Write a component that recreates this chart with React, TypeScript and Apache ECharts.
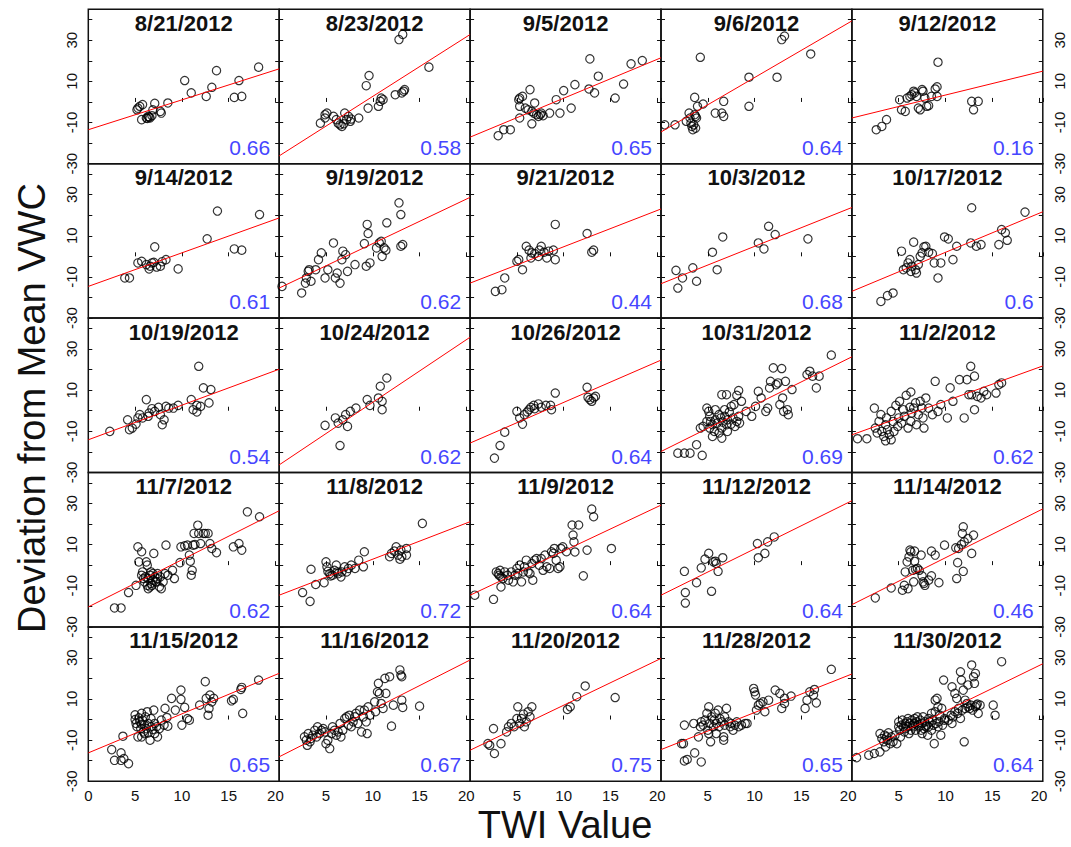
import React, { useEffect, useRef } from "react";
import * as echarts from "echarts";

const dates = ["8/21/2012","8/23/2012","9/5/2012","9/6/2012","9/12/2012","9/14/2012","9/19/2012","9/21/2012","10/3/2012","10/17/2012","10/19/2012","10/24/2012","10/26/2012","10/31/2012","11/2/2012","11/7/2012","11/8/2012","11/9/2012","11/12/2012","11/14/2012","11/15/2012","11/16/2012","11/20/2012","11/28/2012","11/30/2012"];
const rValues = ["0.66","0.58","0.65","0.64","0.16","0.61","0.62","0.44","0.68","0.6","0.54","0.62","0.64","0.69","0.62","0.62","0.72","0.64","0.64","0.46","0.65","0.67","0.75","0.65","0.64"];
const lineAt0 = [-13.5,-26.2,-17.1,-14.6,-7.8,-14.6,-15.4,-13.0,-13.3,-17.0,-14.1,-26.3,-15.7,-19.8,-11.7,-20.3,-14.6,-14.6,-14.6,-19.2,-16.2,-18.1,-14.9,-14.6,-18.1];
const lineAt20 = [15.5,31.6,20.7,38.3,14.5,18.0,27.8,22.3,23.0,20.9,19.5,34.5,23.8,25.3,21.1,25.5,20.4,28.3,30.4,26.4,21.7,28.0,28.8,21.4,26.2];
const xTicks = [0, 5, 10, 15, 20];
const yTickLabels = [-30, -10, 10, 30];

const p0821 = [[5.2,-3.8],[5.5,-2.1],[5.8,-1.3],[5.3,-3.0],[5.7,-8.6],[6.4,-7.0],[6.6,-7.8],[6.8,-6.7],[6.2,-7.8],[6.5,-7.4],[6.3,-8.0],[7.1,-0.7],[6.9,-3.8],[7.7,-4.6],[7.8,-5.4],[8.5,-0.5],[10.3,10.4],[11.0,4.4],[12.6,2.7],[13.2,7.1],[13.7,15.2],[15.6,2.2],[16.1,10.4],[16.4,2.7],[18.2,16.9]];
const p0823 = [[4.4,-10.3],[4.9,-6.2],[5.1,-5.4],[4.9,-7.8],[5.8,-7.0],[6.1,-8.6],[6.3,-10.3],[6.5,-11.1],[6.7,-11.9],[6.9,-10.6],[7.0,-5.4],[7.2,-8.6],[7.4,-7.0],[7.6,-9.4],[7.7,-8.3],[8.5,-7.8],[9.3,7.9],[9.6,12.8],[9.5,-3.0],[10.6,-2.1],[10.8,0.3],[11.1,1.1],[10.9,1.9],[12.4,3.5],[13.1,4.4],[13.3,5.2],[13.4,6.0],[12.8,30.3],[13.2,32.8],[16.0,16.9]];
const p0905 = [[3.0,-16.4],[3.6,-13.5],[4.3,-13.5],[5.2,1.1],[5.3,1.9],[5.6,2.7],[6.4,6.0],[5.3,-2.1],[5.9,-3.0],[6.2,-3.8],[6.6,-4.6],[6.8,-5.4],[6.9,-0.5],[7.1,-6.2],[7.3,-7.0],[7.5,-6.2],[7.6,-5.4],[7.8,-6.7],[8.5,-5.4],[5.3,-7.8],[6.6,-10.6],[9.2,1.1],[9.6,-5.4],[10.0,5.5],[10.8,-3.0],[11.2,8.4],[12.7,6.3],[12.8,20.9],[13.3,4.4],[13.7,12.5],[15.5,1.9],[16.4,8.7],[17.2,18.5],[18.4,20.1]];
const p0906 = [[0.4,-11.1],[1.5,-11.1],[2.7,-9.4],[3.0,-5.4],[3.1,-7.8],[3.2,-10.3],[3.3,-11.9],[3.4,-13.5],[3.5,-11.1],[3.6,-6.2],[3.7,-7.0],[3.8,-7.8],[3.9,-2.1],[3.6,2.2],[3.7,-12.7],[4.2,21.7],[4.5,-1.0],[5.8,-5.4],[6.5,-5.4],[6.7,-7.0],[6.7,0.3],[9.4,12.0],[9.4,-2.1],[12.4,12.0],[12.9,30.3],[13.2,32.0],[16.0,23.3]];
const p0912 = [[2.6,-13.5],[3.2,-11.9],[3.7,-8.6],[5.1,1.1],[5.3,-3.8],[5.7,-4.6],[5.9,1.9],[6.2,2.7],[6.4,3.5],[6.6,5.2],[6.7,4.4],[6.9,2.7],[7.1,-3.0],[7.3,-3.8],[7.5,6.0],[7.6,5.2],[7.8,1.9],[8.0,-2.1],[8.2,-1.8],[8.5,2.7],[8.9,6.3],[9.1,7.3],[9.1,2.7],[9.2,19.3],[12.8,0.3],[13.0,-3.8],[13.5,0.3]];
const p0914 = [[3.9,-10.5],[4.4,-10.5],[5.3,-3.2],[5.7,-2.4],[6.2,-4.0],[6.5,-6.1],[6.6,-4.8],[6.8,-3.2],[7.0,-2.9],[7.1,4.6],[7.3,-5.2],[7.7,-4.8],[7.9,-2.6],[8.3,-1.6],[9.6,-6.1],[12.7,8.5],[13.8,22.0],[15.6,3.6],[16.4,3.0],[18.3,20.3]];
const p0919 = [[0.3,-14.6],[2.4,-17.8],[2.8,-13.0],[2.9,-10.5],[3.1,-7.3],[3.2,-6.5],[3.4,-12.1],[3.9,-6.5],[4.2,-1.6],[4.5,1.7],[4.9,-10.5],[5.2,-6.5],[5.8,6.5],[6.0,-10.5],[6.2,-8.1],[6.5,-13.0],[6.7,-1.6],[6.8,2.5],[7.1,0.8],[7.3,-7.3],[8.1,-4.0],[9.3,-4.8],[9.1,6.2],[9.4,15.5],[9.5,11.1],[9.7,-3.2],[10.4,4.1],[10.7,6.5],[10.9,7.3],[11.0,0.0],[11.2,4.1],[11.4,3.0],[11.5,16.3],[12.8,26.0],[13.0,20.3],[13.0,4.9],[13.2,5.7]];
const p0921 = [[2.7,-17.0],[3.4,-16.2],[3.7,-10.5],[5.0,-2.4],[5.2,-1.6],[5.6,-6.5],[6.0,4.9],[6.3,3.0],[6.5,-0.8],[6.6,1.7],[6.9,1.3],[7.3,0.0],[7.4,3.0],[7.6,4.9],[7.9,2.0],[8.2,-0.8],[8.4,2.5],[8.9,3.0],[9.1,-1.6],[9.1,15.5],[12.5,11.1],[13.0,2.0],[13.2,3.0]];
const p1003 = [[1.6,-6.8],[1.8,-15.4],[2.3,-10.5],[3.4,-5.6],[3.8,-12.1],[5.5,2.0],[6.0,-6.5],[6.6,9.4],[10.4,6.5],[11.0,3.6],[11.5,14.6],[12.2,10.6],[15.7,8.5]];
const p1017 = [[3.1,-21.9],[3.8,-19.1],[4.4,-17.8],[5.3,2.5],[5.5,-6.5],[5.8,-5.6],[6.0,-3.2],[6.2,-1.6],[6.3,-7.3],[6.4,-4.8],[6.6,6.9],[6.8,-6.5],[6.9,-8.1],[7.1,-4.0],[7.3,0.0],[7.5,1.7],[7.7,4.6],[7.9,4.9],[8.2,2.0],[8.6,1.3],[8.8,-3.2],[9.2,-10.5],[9.5,-3.2],[9.9,9.4],[10.3,8.5],[10.8,-1.6],[11.2,4.9],[12.7,6.5],[12.8,23.6],[13.3,4.9],[13.8,5.7],[15.7,5.7],[16.0,13.0],[16.4,11.4],[16.6,7.8],[18.5,21.5]];
const p1019 = [[2.3,-10.0],[4.2,-4.4],[4.4,-9.2],[4.7,-8.4],[5.1,-6.5],[5.3,-3.5],[5.5,-1.9],[5.8,-3.5],[6.2,5.4],[6.4,-2.7],[6.5,-1.1],[6.8,1.0],[7.1,-0.3],[7.5,1.7],[7.7,-1.9],[7.9,-6.8],[8.1,-4.4],[8.3,2.1],[8.6,1.3],[9.1,1.3],[9.6,2.6],[11.0,5.4],[11.2,0.5],[11.6,2.6],[11.8,21.6],[12.0,2.1],[11.6,-0.6],[12.3,11.1],[12.9,3.8],[13.1,10.3]];
const p1024 = [[4.9,-7.1],[6.0,-3.5],[6.3,-6.0],[6.5,-16.9],[6.8,-4.4],[7.1,-1.9],[7.3,-7.6],[7.6,-0.3],[8.2,1.3],[9.4,5.4],[9.7,2.6],[10.6,6.2],[10.8,11.9],[11.0,4.6],[11.0,0.5],[11.5,15.9]];
const p1026 = [[2.6,-23.0],[3.2,-16.9],[3.7,-10.4],[5.0,-0.3],[5.3,-3.5],[5.6,-6.5],[5.8,-1.9],[6.1,-0.6],[6.3,0.5],[6.5,1.7],[6.8,2.6],[6.9,1.0],[7.3,3.3],[7.6,1.7],[8.1,2.6],[8.6,2.6],[8.7,0.5],[9.1,8.6],[12.5,11.4],[12.6,6.5],[12.8,5.4],[13.0,4.6],[13.2,6.2],[13.4,7.0]];
const p1031 = [[1.8,-20.6],[2.5,-20.6],[3.1,-20.6],[3.8,-16.5],[4.4,-21.7],[4.2,-8.4],[4.5,-7.6],[4.9,1.3],[5.1,-0.3],[5.2,-2.7],[5.3,-5.2],[5.5,-6.8],[5.7,-10.0],[5.8,-4.4],[6.0,-6.0],[6.2,-1.9],[6.4,-3.5],[6.5,-8.4],[6.6,-5.5],[6.8,-2.7],[7.0,-6.8],[7.1,-4.4],[7.3,-0.6],[7.5,-6.5],[7.7,-3.5],[7.8,3.0],[7.9,-7.6],[8.1,-5.2],[8.3,-2.7],[8.4,-6.0],[8.6,4.6],[5.5,-12.5],[6.2,-10.8],[5.2,-8.4],[5.8,0.5],[6.8,0.5],[7.5,2.1],[6.5,-13.3],[4.9,-5.2],[7.1,-10.0],[6.5,7.8],[7.0,7.8],[8.1,7.5],[8.3,9.8],[9.1,-0.3],[9.7,-2.7],[10.1,2.1],[10.4,9.4],[10.7,6.2],[11.2,-0.3],[11.4,1.3],[11.6,11.1],[11.7,14.3],[12.0,20.8],[12.3,12.7],[12.5,13.5],[12.7,3.0],[12.9,20.5],[13.0,6.2],[13.1,-0.3],[13.3,14.3],[13.5,0.5],[13.6,-1.9],[14.0,10.3],[15.6,17.6],[15.9,19.2],[16.2,16.8],[16.6,11.1],[16.9,16.8],[18.2,27.0]];
const p1102 = [[0.6,-13.6],[1.6,-13.6],[2.4,1.3],[2.5,-8.4],[2.7,-10.8],[2.9,-5.2],[3.1,-1.9],[3.2,-10.0],[3.4,-12.5],[3.6,-6.8],[3.7,-3.5],[3.8,-9.2],[4.0,-11.6],[4.2,-0.3],[4.4,-5.2],[4.5,-10.0],[4.7,2.6],[4.9,-7.6],[5.0,-3.5],[5.1,4.6],[5.3,-6.0],[5.5,0.5],[5.6,-2.7],[5.8,7.5],[6.0,-8.4],[6.2,1.7],[6.3,-5.2],[6.4,-1.1],[6.8,3.8],[6.9,-6.8],[7.1,-1.9],[7.5,1.3],[7.7,-8.4],[4.2,-14.1],[3.6,-14.6],[6.3,9.1],[6.6,1.3],[7.3,4.6],[7.6,-3.5],[7.9,6.2],[8.2,1.3],[8.6,-1.9],[8.9,14.3],[9.2,-0.3],[9.5,3.0],[10.2,-3.5],[10.5,11.1],[10.8,4.6],[11.5,15.1],[12.0,-3.5],[12.3,15.1],[12.5,7.8],[12.7,21.6],[12.8,7.8],[13.1,16.8],[13.1,0.5],[13.4,7.0],[13.8,6.2],[14.1,9.4],[14.4,7.8],[15.4,8.6],[15.7,12.7],[16.0,13.5]];
const p1107 = [[2.8,-20.8],[3.5,-20.8],[4.3,-13.3],[5.1,-9.8],[5.3,8.9],[5.4,1.6],[5.7,6.5],[5.8,-3.3],[5.9,-6.5],[6.0,-8.1],[6.2,1.6],[6.3,0.0],[6.4,-11.4],[6.4,-6.5],[6.6,-4.9],[6.7,-8.9],[6.7,-3.3],[6.8,-9.8],[6.9,-7.3],[7.0,5.7],[7.1,-5.7],[7.3,-8.1],[7.4,-4.1],[7.6,-10.6],[7.8,-11.4],[8.0,-8.1],[8.2,-4.1],[8.3,9.7],[8.5,-4.9],[9.0,-2.5],[9.2,-6.5],[6.1,-5.7],[6.3,-9.8],[6.6,-10.6],[7.2,-8.1],[7.4,-6.5],[7.7,-5.7],[6.9,-4.1],[5.7,-4.9],[9.8,1.2],[9.9,8.9],[10.3,9.4],[10.6,9.7],[10.8,4.9],[10.9,1.9],[11.0,-4.9],[11.1,-2.5],[11.2,9.7],[11.3,15.4],[11.4,10.0],[11.7,19.4],[11.8,15.4],[12.0,10.5],[12.3,15.4],[12.5,15.4],[12.8,15.4],[13.0,10.5],[13.2,8.1],[13.7,6.1],[15.5,8.9],[16.1,10.5],[16.4,7.3],[17.0,25.9],[18.3,23.5]];
const p1108 = [[2.5,-13.3],[3.3,-17.6],[3.4,-2.0],[3.9,-9.4],[4.8,-8.5],[5.0,1.6],[5.1,-0.8],[5.2,-3.0],[5.4,-4.1],[5.5,-5.2],[5.7,-4.9],[5.9,-2.5],[6.1,0.0],[6.2,-3.3],[6.3,-4.1],[6.6,-5.7],[6.7,-3.3],[7.0,-0.8],[7.2,-3.3],[7.4,-1.6],[7.7,0.0],[8.1,-1.6],[8.5,2.4],[9.0,-0.8],[9.1,6.5],[11.8,4.1],[12.0,5.7],[12.3,6.8],[12.5,8.9],[12.7,4.9],[12.9,2.9],[13.0,7.3],[13.1,4.1],[13.6,4.9],[13.6,8.1],[15.3,20.3]];
const p1109 = [[0.5,-14.6],[2.5,-16.6],[2.8,-3.3],[3.0,-4.1],[3.1,-4.9],[3.2,-2.5],[3.3,-5.7],[3.3,-10.6],[3.5,-6.5],[3.7,-3.3],[4.0,-4.9],[4.1,-7.3],[4.4,-3.3],[4.6,-8.1],[4.8,-4.9],[5.0,-1.6],[5.1,-4.1],[5.3,0.0],[5.5,-8.1],[5.7,-3.3],[5.8,-0.8],[6.0,2.4],[6.2,-3.3],[6.4,-4.1],[6.6,0.8],[6.7,-7.3],[6.9,2.4],[7.1,3.2],[7.4,0.0],[7.6,3.2],[7.8,-2.5],[8.0,4.9],[8.2,-0.8],[8.5,-1.6],[8.7,6.5],[8.9,5.7],[9.0,8.1],[9.2,2.4],[9.4,-1.6],[9.6,-0.8],[9.7,8.1],[9.9,8.9],[10.3,6.5],[10.9,19.5],[11.0,14.6],[11.1,11.3],[11.2,6.4],[11.6,19.5],[12.5,7.3],[12.1,-5.2],[13.0,27.2],[13.2,23.5],[15.1,8.1]];
const p1112 = [[2.5,-3.0],[2.6,-13.3],[2.6,-18.4],[3.8,-8.5],[4.3,-1.3],[4.7,2.9],[5.1,5.7],[5.4,-12.7],[5.6,1.6],[5.8,1.9],[5.9,0.8],[6.1,-3.0],[6.6,3.6],[10.3,10.5],[10.4,3.6],[11.1,5.7],[11.4,11.3],[12.1,13.7]];
const p1114 = [[2.5,-15.9],[4.2,-11.1],[5.4,-12.2],[5.6,-9.8],[5.7,-3.3],[5.9,1.6],[6.0,-11.4],[6.1,4.0],[6.2,7.3],[6.3,6.5],[6.5,-2.5],[6.6,-8.1],[6.7,6.8],[6.7,1.9],[6.8,-2.0],[7.0,-1.6],[7.2,-2.5],[7.4,4.9],[7.5,-5.2],[7.6,-8.1],[7.7,-8.9],[7.8,-9.8],[8.2,-7.3],[8.5,-5.2],[8.5,6.8],[8.9,4.9],[9.3,-8.5],[9.9,9.7],[11.1,8.4],[11.2,-6.5],[11.3,1.2],[11.4,8.1],[11.7,10.0],[11.8,15.4],[11.9,-3.0],[12.0,11.3],[11.9,18.6],[12.4,12.9],[12.8,5.7],[13.0,14.6]];
const p1115 = [[2.5,-14.6],[2.8,-19.8],[3.5,-16.2],[3.5,-19.8],[3.8,-19.0],[4.3,-21.4],[3.7,-8.1],[5.0,2.3],[5.0,0.0],[5.1,-1.9],[5.2,-3.5],[5.3,-8.4],[5.4,0.8],[5.5,-1.1],[5.6,-4.4],[5.7,-2.3],[5.7,3.0],[5.8,-0.3],[5.9,-6.0],[6.0,-2.7],[6.1,1.3],[6.2,-4.4],[6.3,3.8],[6.4,-1.9],[6.4,-6.5],[6.6,-10.0],[6.7,-3.5],[6.7,0.5],[6.9,-4.8],[7.0,4.6],[7.1,-1.9],[7.3,-3.5],[7.4,-8.4],[7.6,-4.4],[7.8,-0.3],[8.1,-2.7],[8.2,5.4],[8.4,1.0],[8.5,-3.2],[6.0,-6.8],[5.7,-8.4],[7.1,-6.8],[8.9,10.3],[9.3,4.6],[9.9,14.3],[9.9,9.8],[10.0,-2.7],[10.3,5.9],[10.6,0.5],[10.8,-0.3],[11.9,7.0],[12.5,18.4],[12.6,10.3],[12.8,2.1],[12.9,5.4],[13.0,11.9],[13.2,8.6],[13.4,10.3],[15.3,9.1],[15.5,9.8],[16.3,14.6],[16.5,3.0],[16.4,15.6],[18.2,19.2]];
const p1116 = [[2.7,-8.4],[2.9,-10.0],[3.0,-12.5],[3.1,-6.8],[3.3,-10.8],[3.4,-9.2],[3.6,-7.6],[3.8,-5.2],[4.0,-8.4],[4.1,-3.5],[4.3,-6.8],[4.5,-5.2],[4.7,-4.4],[4.9,-6.0],[5.0,-11.7],[5.2,-10.0],[5.4,-14.1],[5.6,-6.8],[5.7,-3.5],[5.9,-5.2],[6.1,-7.6],[6.3,-6.0],[6.5,-1.9],[6.6,-8.4],[6.8,-5.2],[7.0,0.5],[7.2,1.3],[7.4,-2.7],[7.5,2.1],[7.7,-3.5],[7.9,-1.1],[8.1,1.3],[8.2,3.0],[8.4,-1.9],[8.6,4.6],[8.8,-6.0],[9.0,1.3],[9.1,4.6],[9.3,-1.1],[9.4,-6.8],[9.5,6.2],[9.7,2.1],[10.2,8.6],[10.3,3.8],[10.5,13.5],[10.6,17.6],[10.7,12.7],[10.9,7.8],[11.1,5.4],[11.3,20.0],[11.4,12.7],[11.8,20.8],[12.0,-3.2],[12.2,7.0],[12.9,24.1],[13.0,21.6],[13.1,20.8],[13.1,9.4],[13.2,5.9],[15.0,6.5]];
const p1120 = [[1.9,-11.7],[2.1,-12.5],[2.5,-4.4],[2.6,-16.5],[3.3,-11.7],[3.9,-6.0],[4.1,-3.5],[4.4,-1.9],[4.7,-3.5],[5.0,0.5],[5.1,6.2],[5.3,-1.9],[5.5,0.5],[5.7,2.6],[5.8,-3.5],[6.0,-1.1],[6.2,3.8],[6.4,1.3],[6.6,6.2],[10.4,4.9],[10.7,6.2],[11.4,11.1],[12.3,16.3],[15.5,10.7]];
const p1128 = [[2.2,-11.7],[2.4,-11.7],[2.5,-20.1],[2.8,-19.4],[3.6,-16.2],[4.3,-20.6],[2.5,-2.7],[3.5,-1.9],[4.0,-8.4],[4.2,-3.5],[4.3,-1.1],[4.5,-2.7],[4.7,-0.3],[4.9,3.0],[5.0,-5.2],[5.1,6.2],[5.2,-1.9],[5.3,-10.8],[5.4,1.3],[5.6,-3.5],[5.7,-0.3],[5.8,3.0],[5.9,-1.9],[6.1,4.6],[6.2,-3.5],[6.3,0.5],[6.5,-1.1],[6.7,-8.4],[6.8,-2.7],[6.8,1.3],[7.0,5.4],[7.2,-1.1],[7.4,-3.5],[7.5,-1.9],[7.7,-5.2],[7.9,-2.7],[8.1,-1.1],[8.3,-3.5],[8.6,-2.7],[9.0,-1.9],[6.7,-10.0],[5.9,-6.8],[5.1,-6.8],[9.2,-1.9],[9.9,15.1],[10.0,13.5],[10.1,11.9],[10.2,4.6],[10.4,7.0],[10.6,7.8],[10.9,8.6],[11.1,3.8],[11.5,9.4],[12.2,14.3],[12.7,12.7],[12.9,5.4],[13.2,10.3],[13.2,7.8],[13.9,11.4],[15.4,5.4],[15.6,9.4],[15.9,13.5],[16.4,14.6],[16.6,8.1],[16.3,11.9],[18.2,24.4]];
const p1130 = [[0.5,-18.5],[1.8,-17.3],[2.4,-16.5],[3.0,-15.7],[3.0,-6.8],[3.2,-9.2],[3.4,-10.8],[3.5,-7.6],[3.6,-13.3],[3.7,-8.4],[3.8,-10.0],[3.9,-6.5],[4.1,-11.7],[4.2,-8.4],[4.4,-10.8],[4.6,-7.6],[4.8,-11.7],[5.0,-3.5],[5.0,-1.1],[5.1,-5.2],[5.2,-8.4],[5.3,-2.7],[5.4,-0.3],[5.5,-3.5],[5.6,-6.0],[5.7,-1.9],[5.7,-4.4],[5.9,-1.1],[6.0,0.5],[6.0,-3.5],[6.1,-6.8],[6.2,-1.9],[6.3,-5.2],[6.4,-0.3],[6.5,-2.7],[6.6,-3.5],[6.7,0.5],[6.7,-1.9],[6.8,-5.2],[6.9,-1.1],[7.0,1.3],[7.1,-2.7],[7.2,-3.5],[7.3,-0.3],[7.4,-5.2],[7.5,-1.9],[7.5,-6.8],[7.6,1.3],[7.7,-4.4],[7.8,-1.1],[7.9,-3.5],[8.0,-2.7],[8.1,-7.6],[8.2,0.5],[8.2,-3.5],[8.3,-1.1],[8.5,3.0],[8.5,-5.2],[8.6,-0.3],[8.7,-2.7],[8.9,3.8],[9.0,-1.9],[9.2,-3.5],[9.3,-1.1],[9.5,-7.6],[9.7,-2.7],[9.9,-0.3],[10.3,-0.3],[10.6,2.1],[10.7,-1.9],[11.0,3.8],[11.3,3.0],[11.6,0.5],[11.8,4.6],[12.1,5.4],[12.4,6.2],[12.7,7.0],[12.9,4.6],[13.2,6.2],[13.4,7.5],[8.8,-11.7],[8.9,9.4],[9.1,10.3],[9.2,6.2],[9.4,2.1],[9.6,5.4],[9.8,19.2],[9.9,0.5],[10.7,15.9],[10.8,1.3],[11.0,12.7],[11.2,10.3],[11.4,5.4],[11.6,23.2],[11.7,19.2],[11.9,14.3],[12.0,-10.8],[12.1,9.4],[12.3,7.8],[12.4,16.8],[12.6,5.4],[12.8,26.5],[13.0,20.8],[13.1,17.6],[13.2,22.4],[13.3,7.0],[13.5,3.0],[13.7,7.0],[15.1,7.0],[15.3,2.1],[16.0,28.1]];

const panels = [p0821,p0823,p0905,p0906,p0912,p0914,p0919,p0921,p1003,p1017,p1019,p1024,p1026,p1031,p1102,p1107,p1108,p1109,p1112,p1114,p1115,p1116,p1120,p1128,p1130];

const FONT = "'Liberation Sans', Arial, sans-serif";
const X_MAX = 20.4;
const Y_MIN = -30;
const Y_MAX = 45;
const LEFT = 88.3;
const TOP = 9.3;
const CW = 190.9;
const CH = 154.4;

export default function App() {
  const ref = useRef<HTMLDivElement>(null);
  useEffect(() => {
    const chart = echarts.init(ref.current!, null, { renderer: "svg" });
    const grid: any[] = [];
    const xAxis: any[] = [];
    const yAxis: any[] = [];
    const series: any[] = [];
    const graphic: any[] = [];
    const tick = { show: true, inside: true, length: 4, lineStyle: { color: "#111", width: 1 } };
    panels.forEach((pts, i) => {
      const r = Math.floor(i / 5);
      const c = i % 5;
      const left = LEFT + c * CW;
      const top = TOP + r * CH;
      grid.push({ left, top, width: CW, height: CH, show: true, borderColor: "#111", borderWidth: 1.5, backgroundColor: "transparent" });
      xAxis.push({
        type: "value", gridIndex: i, min: 0, max: X_MAX, interval: 5,
        axisLine: { show: false }, splitLine: { show: false }, axisTick: tick,
        axisLabel: {
          show: r === 4, fontSize: 15, color: "#111", fontFamily: FONT, margin: 7,
          formatter: (v: number) => (xTicks.includes(v) && !(c > 0 && v === 0) ? String(v) : ""),
        },
      });
      const yLab = (show: boolean) => ({
        show, rotate: 90, fontSize: 15, color: "#111", fontFamily: FONT, margin: 9,
        formatter: (v: number) => (yTickLabels.includes(v) ? String(v) : ""),
      });
      yAxis.push({
        type: "value", gridIndex: i, position: "left", min: Y_MIN, max: Y_MAX, interval: 10,
        axisLine: { show: false }, splitLine: { show: false }, axisTick: tick, axisLabel: yLab(c === 0),
      });
      yAxis.push({
        type: "value", gridIndex: i, position: "right", min: Y_MIN, max: Y_MAX, interval: 10,
        axisLine: { show: false }, splitLine: { show: false }, axisTick: tick, axisLabel: yLab(c === 4),
      });
      series.push({
        type: "scatter", xAxisIndex: i, yAxisIndex: 2 * i, data: pts, symbol: "circle", symbolSize: 8.3,
        itemStyle: { color: "rgba(0,0,0,0)", borderColor: "#000", borderWidth: 1.2 }, silent: true, z: 2,
      });
      const slope = (lineAt20[i] - lineAt0[i]) / 20;
      series.push({
        type: "line", xAxisIndex: i, yAxisIndex: 2 * i, symbol: "none", silent: true, clip: true, z: 3,
        data: [[0, lineAt0[i]], [X_MAX, lineAt0[i] + slope * X_MAX]],
        lineStyle: { color: "#ff0000", width: 1 },
      });
      graphic.push({
        type: "text", x: left + CW / 2, y: top + 3, silent: true,
        style: { text: dates[i], fill: "#111", fontSize: 22, fontWeight: "bold", fontFamily: FONT, align: "center", verticalAlign: "top" },
      });
      graphic.push({
        type: "text", x: left + CW - 9, y: top + CH - 6, silent: true,
        style: { text: rValues[i], fill: "#4646ff", fontSize: 21, fontFamily: FONT, align: "right", verticalAlign: "bottom" },
      });
    });
    graphic.push({
      type: "text", x: 32, y: 408, rotation: Math.PI / 2, silent: true,
      style: { text: "Deviation from Mean VWC", fill: "#111", fontSize: 38, fontFamily: FONT, align: "center", verticalAlign: "middle" },
    });
    graphic.push({
      type: "text", x: 565, y: 825, silent: true,
      style: { text: "TWI Value", fill: "#111", fontSize: 38, fontFamily: FONT, align: "center", verticalAlign: "middle" },
    });
    chart.setOption({ animation: false, backgroundColor: "#fff", grid, xAxis, yAxis, series, graphic });
    return () => chart.dispose();
  }, []);
  return <div ref={ref} style={{ position: "absolute", left: 0, top: 0, width: 1071, height: 847 }} />;
}
